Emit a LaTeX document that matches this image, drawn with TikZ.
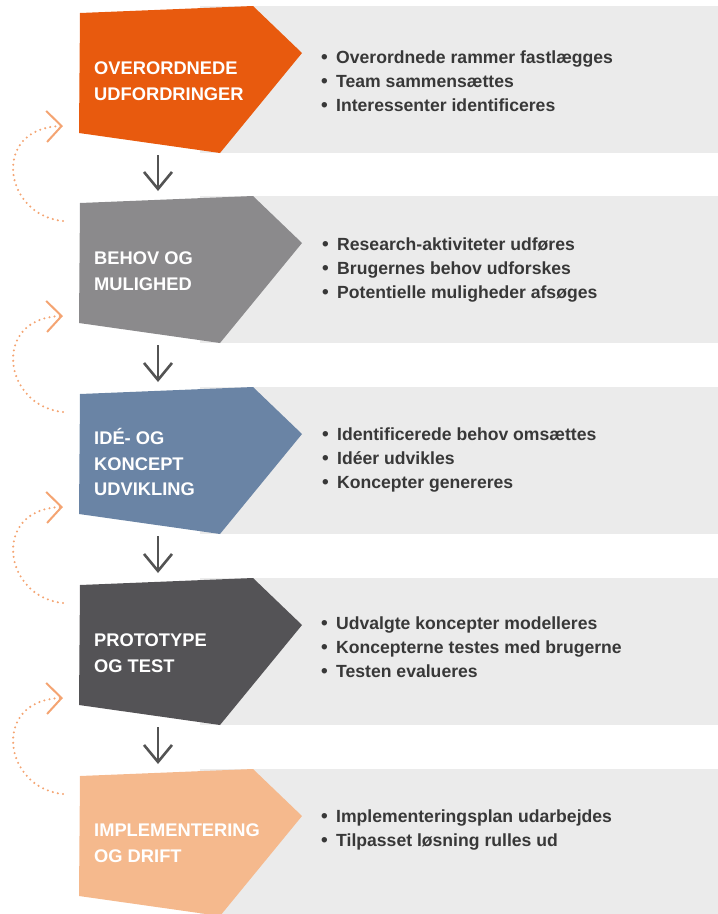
\documentclass[tikz,border=0pt]{standalone}
\usepackage{fontspec}
\setmainfont{Liberation Sans}
\usetikzlibrary{arrows.meta}
\definecolor{bggray}{HTML}{EBEBEB}
\definecolor{cOrange}{HTML}{E85A0E}
\definecolor{cGray}{HTML}{8B8A8C}
\definecolor{cBlue}{HTML}{6A84A5}
\definecolor{cDark}{HTML}{545356}
\definecolor{cPeach}{HTML}{F5B98D}
\definecolor{arrowgray}{HTML}{535353}
\definecolor{loopcol}{HTML}{F4A472}
\definecolor{bodytext}{HTML}{383838}
\newcommand\mkstage[3]{%
  \begin{scope}[shift={(0,#2)}]
    \fill[bggray] (200,0) rectangle (740,147);
    \fill[#3] (80,7) -- (253,0) -- (302,47) -- (220,147) -- (79,127) -- cycle;
    \coordinate (#1top) at (158,-5);
    \coordinate (#1bot) at (158,149);
    \coordinate (#1in) at (63,120);
    \coordinate (#1out) at (63,25);
  \end{scope}}
\newcommand\bul{\makebox[15pt][l]{\raisebox{0pt}{\fontsize{19}{19}\selectfont•}}}
\tikzset{
  titletext/.style={anchor=west, inner sep=0pt, align=left, text=white,
    font=\fontsize{18.3}{25.5}\selectfont\bfseries},
  bodylist/.style={anchor=west, inner sep=0pt, align=left, text=bodytext,
    font=\fontsize{17.6}{23.8}\selectfont\bfseries},
  downarrow/.style={draw=arrowgray, line width=2.6pt,
    -{Straight Barb[length=17pt,width=28pt]}},
  looparrow/.style={draw=loopcol, line width=2.3pt, line cap=round,
    dash pattern=on 0pt off 5.2pt,
    -{Straight Barb[length=15pt,width=31pt,line width=2pt]}},
}
\begin{document}
\begin{tikzpicture}[x=1pt,y=-1pt]
\useasboundingbox (0,0) rectangle (718,914);
\begin{scope}
\clip (0,0) rectangle (718,914);
\mkstage{s1}{6}{cOrange}
\mkstage{s2}{196}{cGray}
\mkstage{s3}{387}{cBlue}
\mkstage{s4}{578}{cDark}
\mkstage{s5}{769}{cPeach}
\end{scope}
% titles
\node[titletext] (t1) at (94,81) {OVERORDNEDE\\UDFORDRINGER};
\node[titletext] (t2) at (94,271) {BEHOV OG\\MULIGHED};
\node[titletext] (t3) at (94,462) {IDÉ- OG\\KONCEPT\\UDVIKLING};
\node[titletext] (t4) at (94,653) {PROTOTYPE\\OG TEST};
\node[titletext] (t5) at (94,843) {IMPLEMENTERING\\OG DRIFT};
% bullet lists
\node[bodylist] (l1) at (321,81) {\bul Overordnede rammer fastlægges\\\bul Team sammensættes\\\bul Interessenter identificeres};
\node[bodylist] (l2) at (322,270) {\bul Research-aktiviteter udføres\\\bul Brugernes behov udforskes\\\bul Potentielle muligheder afsøges};
\node[bodylist] (l3) at (322,460) {\bul Identificerede behov omsættes\\\bul Idéer udvikles\\\bul Koncepter genereres};
\node[bodylist] (l4) at (321,647) {\bul Udvalgte koncepter modelleres\\\bul Koncepterne testes med brugerne\\\bul Testen evalueres};
\node[bodylist] (l5) at (321,830) {\bul Implementeringsplan udarbejdes\\\bul Tilpasset løsning rulles ud};
% down arrows
\draw[downarrow] (s1bot) -- (s2top);
\draw[downarrow] (s2bot) -- (s3top);
\draw[downarrow] (s3bot) -- (s4top);
\draw[downarrow] (s4bot) -- (s5top);
% feedback loops
\draw[looparrow] (s2out) .. controls +(-60,-6) and +(-72,2) .. (s1in);
\draw[looparrow] (s3out) .. controls +(-60,-6) and +(-72,2) .. (s2in);
\draw[looparrow] (s4out) .. controls +(-60,-6) and +(-72,2) .. (s3in);
\draw[looparrow] (s5out) .. controls +(-60,-6) and +(-72,2) .. (s4in);
\end{tikzpicture}
\end{document}
